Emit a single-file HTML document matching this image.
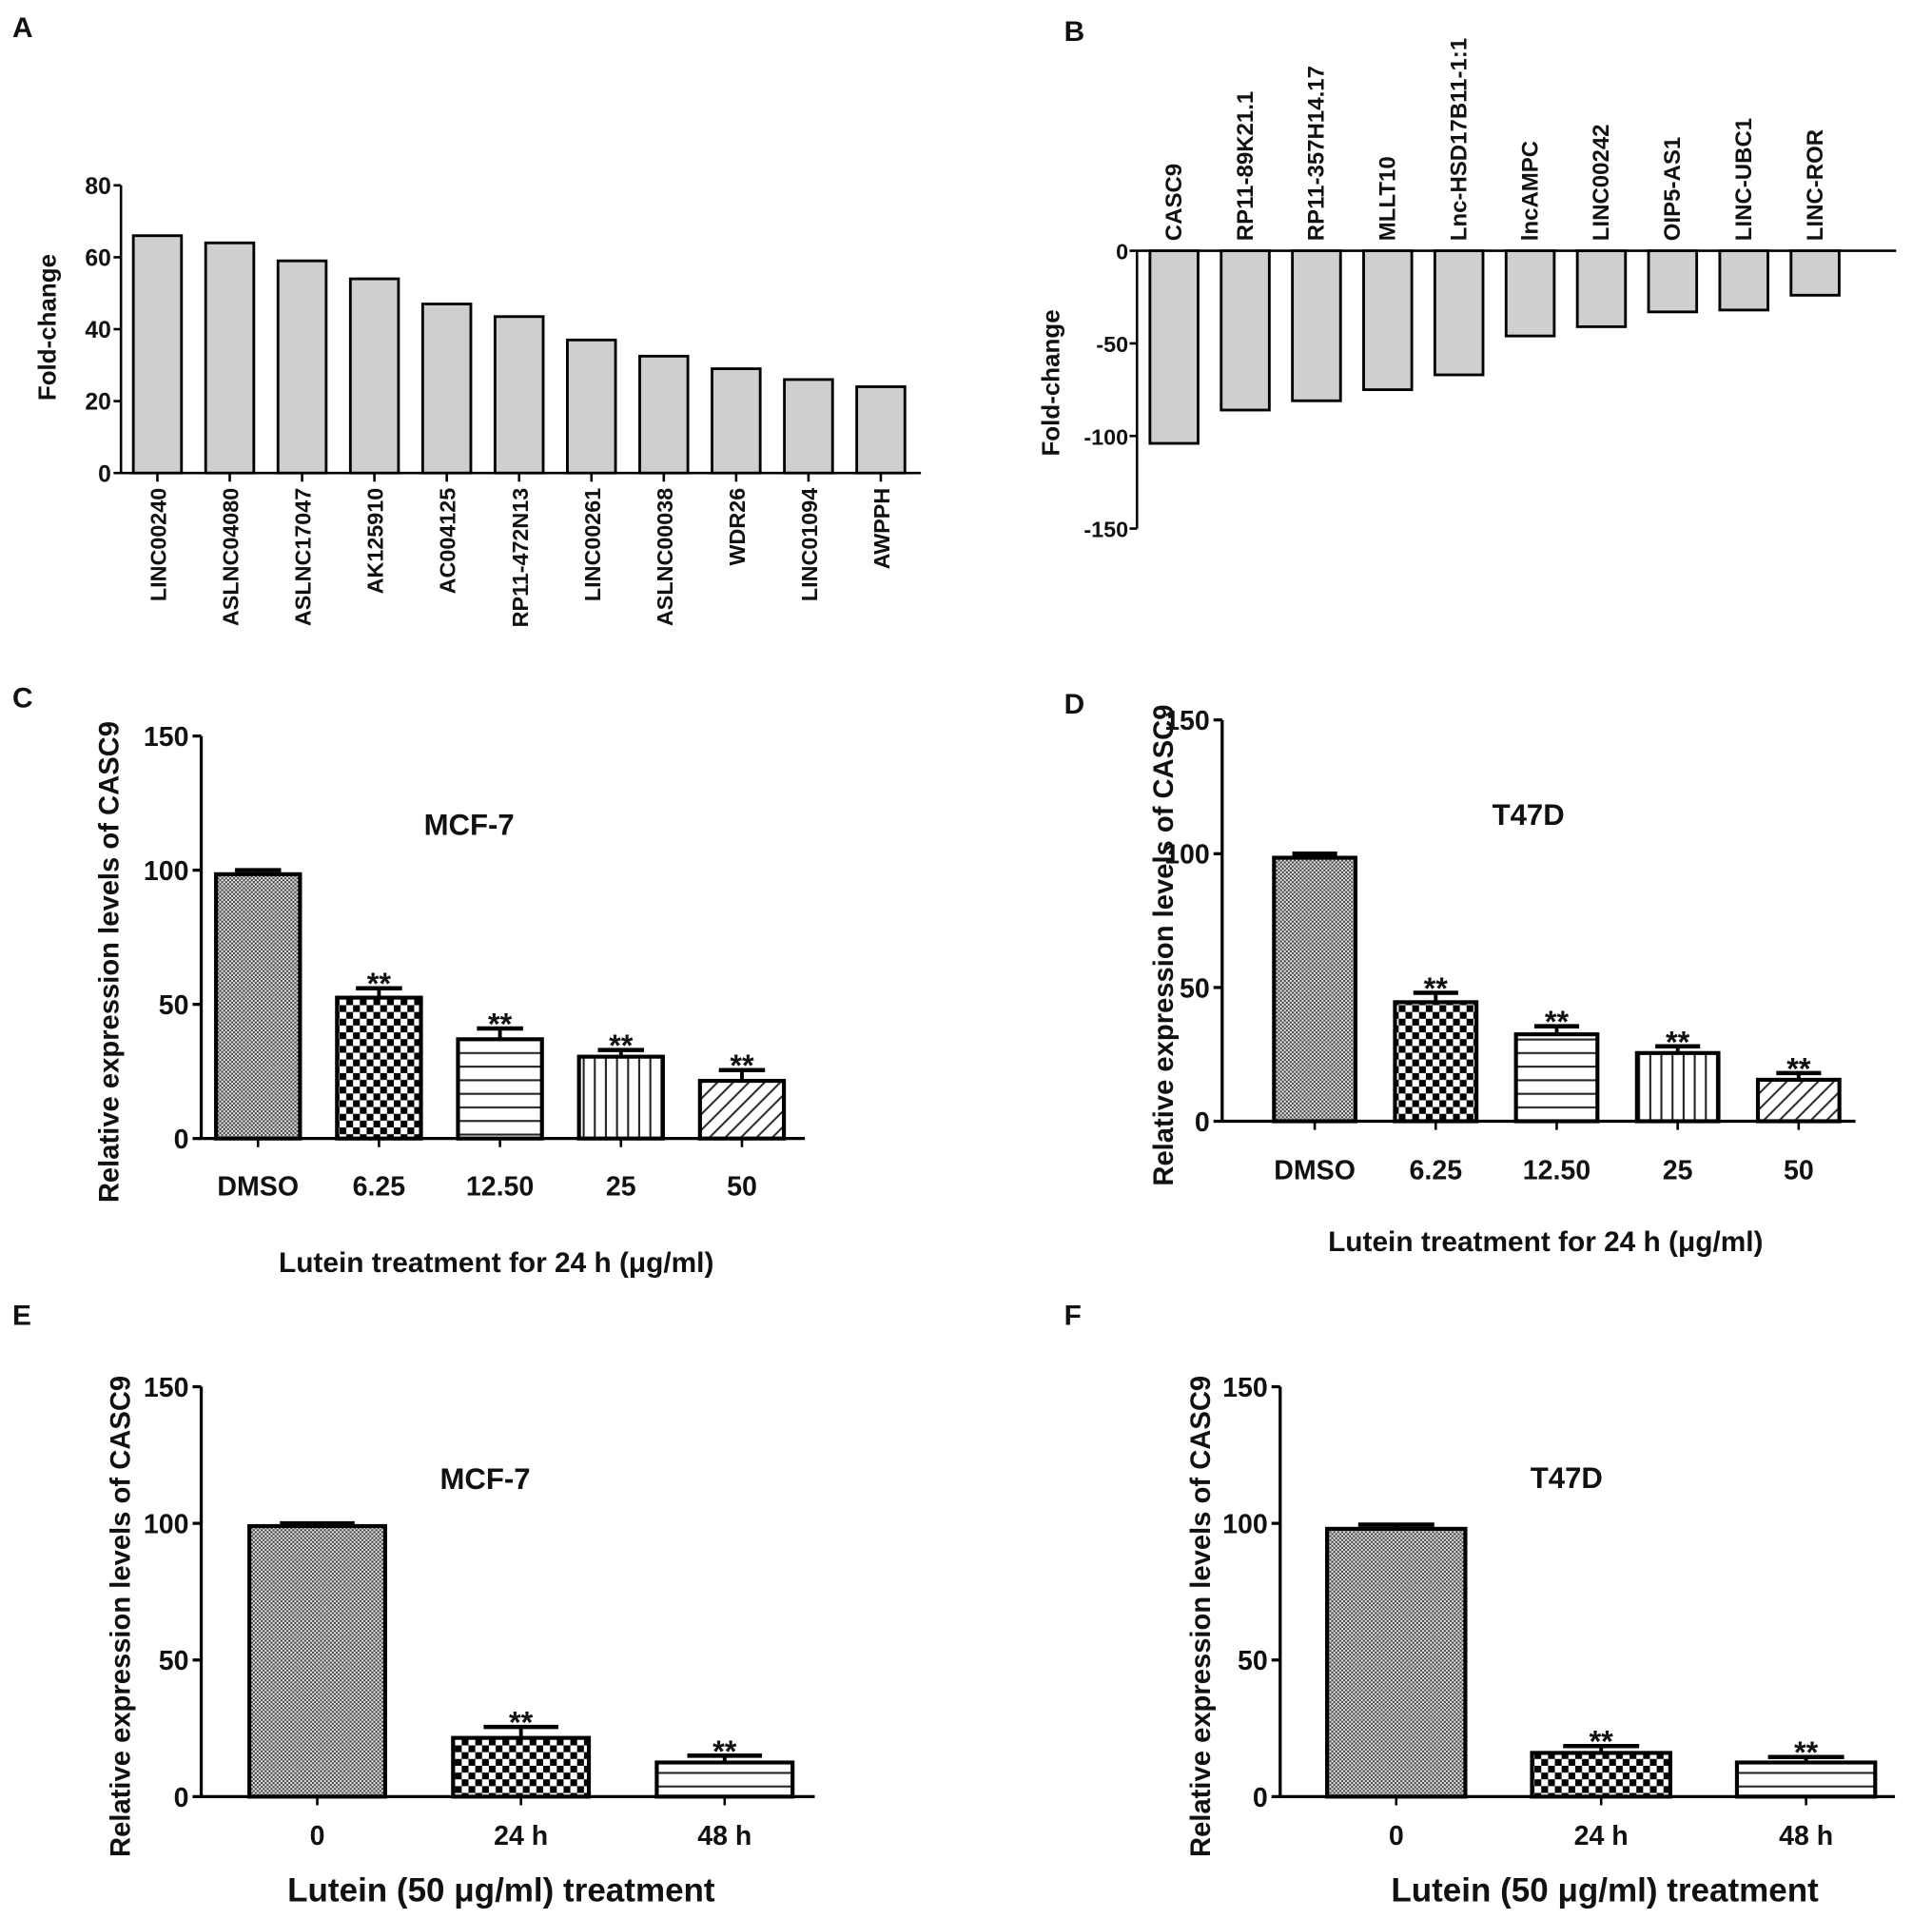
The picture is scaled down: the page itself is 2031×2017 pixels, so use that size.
<!DOCTYPE html>
<html><head><meta charset="utf-8"><style>
html,body{margin:0;padding:0;background:#fff}
svg{display:block}
text{font-family:"Liberation Sans",Arial,sans-serif;font-weight:bold;fill:#111}
</style></head><body>
<svg id="fig" width="2031" height="2017" viewBox="0 0 1565 1554" xmlns="http://www.w3.org/2000/svg">
<defs>
<pattern id="pDense" width="3.2" height="3.2" patternUnits="userSpaceOnUse"><rect width="3.2" height="3.2" fill="#e8e8e8"/><rect width="1.6" height="1.6" fill="#444"/><rect x="1.6" y="1.6" width="1.6" height="1.6" fill="#444"/></pattern>
<pattern id="pCheck" width="11" height="11" patternUnits="userSpaceOnUse"><rect width="11" height="11" fill="#fff"/><rect width="5.5" height="5.5" fill="#000"/><rect x="5.5" y="5.5" width="5.5" height="5.5" fill="#000"/></pattern>
<pattern id="pHoriz" width="10" height="11" patternUnits="userSpaceOnUse"><rect width="10" height="11" fill="#fff"/><rect y="5" width="10" height="1.6" fill="#222"/></pattern>
<pattern id="pVert" width="9" height="10" patternUnits="userSpaceOnUse"><rect width="9" height="10" fill="#fff"/><rect x="4" width="1.6" height="10" fill="#222"/></pattern>
<pattern id="pDiag" width="9" height="9" patternUnits="userSpaceOnUse" patternTransform="rotate(45)"><rect width="9" height="9" fill="#fff"/><rect x="4" width="1.5" height="9" fill="#222"/></pattern>
</defs>
<g id="root"></g>
</svg>
<script>
// Panel A data
const aCats = ["LINC00240","ASLNC04080","ASLNC17047","AK125910","AC004125","RP11-472N13","LINC00261","ASLNC00038","WDR26","LINC01094","AWPPH"];
const aVals = [66,64,59,54,47,43.5,37,32.5,29,26,24];
const aTicks = [0,20,40,60,80];
// Panel B data
const bCats = ["CASC9","RP11-89K21.1","RP11-357H14.17","MLLT10","Lnc-HSD17B11-1:1","lncAMPC","LINC00242","OIP5-AS1","LINC-UBC1","LINC-ROR"];
const bVals = [-104,-86,-81,-75,-67,-46,-41,-33,-32,-24];
const bTicks = [0,-50,-100,-150];
// Panel C data
const cCats = ["DMSO","6.25","12.50","25","50"];
const cVals = [98.5,52.5,37,30.5,21.5];
const cErrs = [1.5,3.5,4,2.5,4];
// Panel D data
const dCats = ["DMSO","6.25","12.50","25","50"];
const dVals = [98.5,44.5,32.5,25.5,15.5];
const dErrs = [1.5,3.5,3,2.5,2.5];
// Panel E data
const eCats = ["0","24 h","48 h"];
const eVals = [99,21.5,12.5];
const eErrs = [1,4,2.5];
// Panel F data
const fCats = ["0","24 h","48 h"];
const fVals = [98,16,12.5];
const fErrs = [1.5,2.5,2];
const expTicks = [0,50,100,150];

const NS="http://www.w3.org/2000/svg";
const root=document.getElementById('root');
function mk(tag,attrs,parent){const e=document.createElementNS(NS,tag);for(const k in attrs)e.setAttribute(k,attrs[k]);(parent||root).appendChild(e);return e;}
function txt(s,attrs,parent){const e=mk('text',attrs,parent);e.textContent=s;return e;}

// panel letters
[["A",10,30],["B",862,33],["C",10,573],["D",862,578],["E",10,1073],["F",862,1073]].forEach(p=>{
  const t=txt(p[0],{x:p[1],y:p[2],'font-size':23});
  
  
});

// Panel A
(function(){
  const g=mk('g',{});
  
  
  const x0=98,y0=383,yTop=150,vmax=80;
  const y=v=>y0-(y0-yTop)*v/vmax;
  const xc=i=>127.5+i*58.6;
  mk('line',{x1:x0,y1:yTop,x2:x0,y2:y0,stroke:'#000','stroke-width':2},g);
  mk('line',{x1:x0,y1:y0,x2:746,y2:y0,stroke:'#000','stroke-width':2},g);
  aTicks.forEach(t=>{mk('line',{x1:x0-6,y1:y(t),x2:x0,y2:y(t),stroke:'#000','stroke-width':2},g);
    const l=txt(t,{x:x0-8,y:y(t)+7,'font-size':19,'text-anchor':'end'},g);
    
    });
  aVals.forEach((v,i)=>{
    const r=mk('rect',{x:xc(i)-19.5,y:y(v),width:39,height:y0-y(v),fill:'#cfcfcf',stroke:'#000','stroke-width':2.2},g);
    
    
    mk('line',{x1:xc(i),y1:y0,x2:xc(i),y2:y0+7,stroke:'#000','stroke-width':2},g);
    const l=txt(aCats[i],{x:0,y:0,'font-size':18,'text-anchor':'end',transform:`translate(${xc(i)+7},${y0+12}) rotate(-90)`},g);
    
    
  });
  const t=txt('Fold-change',{x:0,y:0,'font-size':20,'text-anchor':'middle',transform:`translate(45,265) rotate(-90)`},g);
  
  
})();

// Panel B
(function(){
  const g=mk('g',{});
  
  
  const x0=921,y0=203,yBot=428;
  const y=v=>y0+(yBot-y0)*(-v)/150;
  const xc=i=>951+i*57.7;
  mk('line',{x1:x0,y1:y0,x2:x0,y2:yBot,stroke:'#000','stroke-width':2},g);
  mk('line',{x1:x0,y1:y0,x2:1536,y2:y0,stroke:'#000','stroke-width':2},g);
  bTicks.forEach(t=>{mk('line',{x1:x0-6,y1:y(t),x2:x0,y2:y(t),stroke:'#000','stroke-width':2},g);
    const l=txt(t,{x:x0-7,y:y(t)+7,'font-size':18,'text-anchor':'end'},g);
    
    });
  bVals.forEach((v,i)=>{
    const r=mk('rect',{x:xc(i)-19.5,y:y0,width:39,height:y(v)-y0,fill:'#cfcfcf',stroke:'#000','stroke-width':2.2},g);
    
    
    const l=txt(bCats[i],{x:0,y:0,'font-size':18.5,'text-anchor':'start',transform:`translate(${xc(i)+6},${y0-8}) rotate(-90)`},g);
    
    
  });
  const t=txt('Fold-change',{x:0,y:0,'font-size':20,'text-anchor':'middle',transform:`translate(858,310) rotate(-90)`},g);
  
  
})();

// Expression panels
function expPanel(key,cats,vals,errs,cfg){
  const g=mk('g',{});
  
  
  const y=v=>cfg.y0-(cfg.y0-cfg.yTop)*v/150;
  const xc=i=>cfg.c0+i*cfg.step;
  mk('line',{x1:cfg.x0,y1:cfg.yTop,x2:cfg.x0,y2:cfg.y0,stroke:'#000','stroke-width':2.5},g);
  mk('line',{x1:cfg.x0,y1:cfg.y0,x2:cfg.xEnd,y2:cfg.y0,stroke:'#000','stroke-width':2.5},g);
  expTicks.forEach(t=>{mk('line',{x1:cfg.x0-7,y1:y(t),x2:cfg.x0,y2:y(t),stroke:'#000','stroke-width':2.5},g);
    const l=txt(t,{x:cfg.x0-10,y:y(t)+8,'font-size':22,'text-anchor':'end'},g);
    
    });
  vals.forEach((v,i)=>{
    const top=y(v),et=y(v+errs[i]);
    const hw=cfg.bw/2;
    mk('line',{x1:xc(i),y1:top,x2:xc(i),y2:et,stroke:'#000','stroke-width':3},g);
    mk('line',{x1:xc(i)-hw*0.55,y1:et,x2:xc(i)+hw*0.55,y2:et,stroke:'#000','stroke-width':3.5},g);
    const r=mk('rect',{x:xc(i)-hw,y:top,width:cfg.bw,height:cfg.y0-top,fill:`url(#${cfg.pats[i]})`,stroke:'#000','stroke-width':3.2},g);
    
    
    mk('line',{x1:xc(i),y1:cfg.y0,x2:xc(i),y2:cfg.y0+7,stroke:'#000','stroke-width':2},g);
    const l=txt(cats[i],{x:xc(i),y:cfg.labY,'font-size':22,'text-anchor':'middle'},g);
    
    
    if(i>0){const s=txt('**',{x:xc(i),y:et+5,'font-size':25,'text-anchor':'middle'},g);
      
      }
  });
  const ti=txt(cfg.title,{x:cfg.tx,y:cfg.ty,'font-size':24,'text-anchor':'middle'},g);
  
  
  const xt=txt(cfg.xtitle,{x:cfg.xtx,y:cfg.xty,'font-size':cfg.xfs,'text-anchor':'middle'},g);
  
  
  const yt=txt('Relative expression levels of CASC9',{x:0,y:0,'font-size':22.5,'text-anchor':'middle',transform:`translate(${cfg.ytx},${(cfg.y0+cfg.yTop)/2+20}) rotate(-90)`},g);
  
  
}
const p5=['pDense','pCheck','pHoriz','pVert','pDiag'];
expPanel('c',cCats,cVals,cErrs,{x0:163,y0:922,yTop:596,xEnd:652,c0:209,step:98,bw:68,pats:p5,labY:968,title:'MCF-7',tx:380,ty:676,xtitle:'Lutein  treatment for 24 h (μg/ml)',xtx:402,xty:1030,xfs:23,ytx:96});
expPanel('d',dCats,dVals,dErrs,{x0:990,y0:908,yTop:583,xEnd:1503,c0:1065,step:98,bw:66,pats:p5,labY:955,title:'T47D',tx:1238,ty:668,xtitle:'Lutein  treatment for 24 h (μg/ml)',xtx:1252,xty:1013,xfs:23,ytx:950});
expPanel('e',eCats,eVals,eErrs,{x0:163,y0:1455,yTop:1123,xEnd:660,c0:257,step:165,bw:110,pats:['pDense','pCheck','pHoriz'],labY:1494,title:'MCF-7',tx:393,ty:1206,xtitle:'Lutein (50 μg/ml) treatment',xtx:406,xty:1540,xfs:27,ytx:105});
expPanel('f',fCats,fVals,fErrs,{x0:1037,y0:1455,yTop:1123,xEnd:1535,c0:1131,step:166,bw:112,pats:['pDense','pCheck','pHoriz'],labY:1494,title:'T47D',tx:1269,ty:1205,xtitle:'Lutein (50 μg/ml) treatment',xtx:1300,xty:1540,xfs:27,ytx:980});
</script>
</body></html>
